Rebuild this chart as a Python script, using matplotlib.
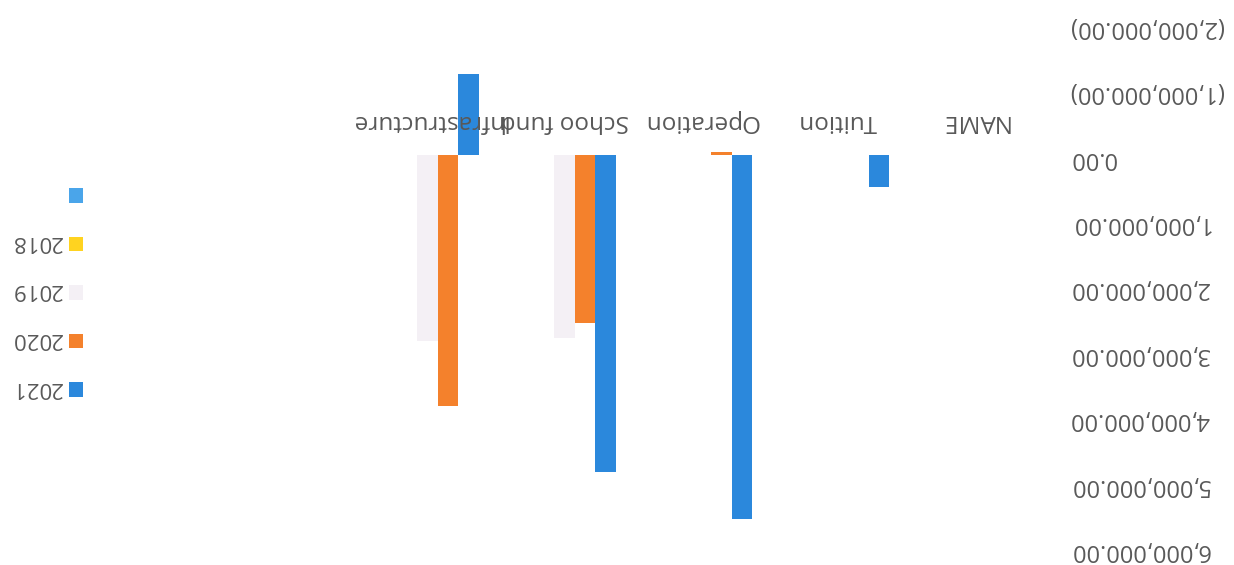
import matplotlib
matplotlib.use("Agg")
import matplotlib.pyplot as plt
from matplotlib.ticker import FuncFormatter, MultipleLocator
import numpy as np

plt.rcParams['font.family'] = ['Open Sans', 'DejaVu Sans']

categories = ["NAME", "Tuition", "Operation", "Schoo fund", "Infrastructure"]
series_names = ["2021", "2020", "2019", "2018", " "]
v2021 = [0, 500000, 5570000, 4850000, -1240000]
v2020 = [0, 0, -45000, 2570000, 3850000]
v2019 = [0, 0, 0, 2800000, 2850000]
v2018 = [0, 0, 0, 0, 0]
vblank = [0, 0, 0, 0, 0]
series_values = [v2021, v2020, v2019, v2018, vblank]
colors = ["#2B88DC", "#F4812C", "#F4F0F5", "#FFD320", "#4AA5EA"]

text_color = "#595959"

fig = plt.figure(figsize=(12.34, 5.65), dpi=100)
ax = fig.add_axes([0.1216, 0.0319, 0.7236, 0.9256])

x = np.arange(len(categories))
w = 0.15
handles = []
for i, (name, vals, c) in enumerate(zip(series_names, series_values, colors)):
    b = ax.bar(x + (i - 2) * w, vals, width=w, color=c, label=name, zorder=1)
    handles.append(b)

# upside-down (rotated 180 degrees) presentation
ax.set_xlim(6.03, -0.5)
ax.set_ylim(6000000, -2000000)
ax.yaxis.set_major_locator(MultipleLocator(1000000))

def fmt(v, pos):
    if v < 0:
        return f"({abs(v):,.2f})"
    return f"{v:,.2f}"

ax.yaxis.set_major_formatter(FuncFormatter(fmt))
ax.yaxis.tick_right()
ax.tick_params(axis='y', length=0, pad=19, labelsize=17, labelcolor=text_color)
for t in ax.get_yticklabels():
    t.set_rotation(180)

ax.xaxis.tick_top()
ax.spines['top'].set_position(('data', 0))
ax.set_xticks(x)
ax.set_xticklabels(categories)
ax.tick_params(axis='x', length=0, pad=15.5, labelsize=17.5, labelcolor=text_color)
for t in ax.get_xticklabels():
    t.set_rotation(180)
ax.xaxis.set_zorder(3)

for s in ax.spines.values():
    s.set_visible(False)

leg = fig.legend(handles[::-1], series_names[::-1], loc='center',
                 bbox_to_anchor=(0.0377, 0.478), bbox_transform=fig.transFigure,
                 frameon=False, markerfirst=False, fontsize=16,
                 labelspacing=1.24, handlelength=0.63, handleheight=0.63,
                 handletextpad=0.32, labelcolor=text_color)
for t in leg.get_texts():
    t.set_rotation(180)
    t.set_verticalalignment('bottom')

fig.savefig("out.png", dpi=100)
